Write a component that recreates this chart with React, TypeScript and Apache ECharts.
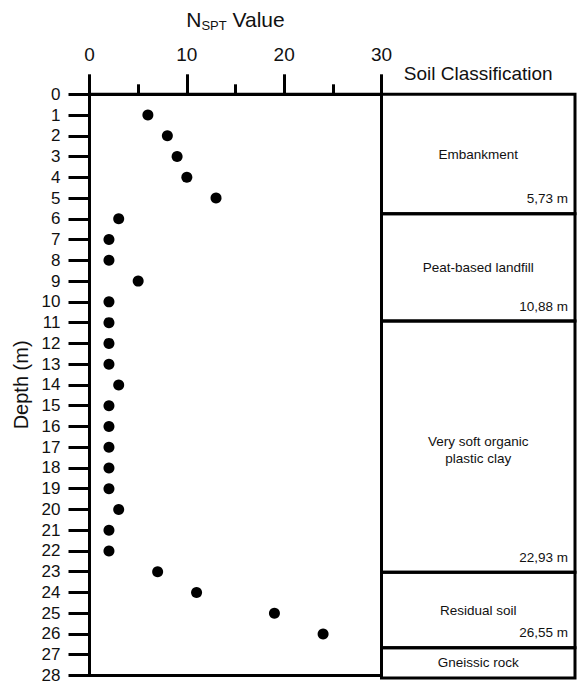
import React, { useEffect, useRef } from "react";
import * as echarts from "echarts";

// N_SPT values per depth (m)
const depths = [1,2,3,4,5,6,7,8,9,10,11,12,13,14,15,16,17,18,19,20,21,22,23,24,25,26];
const nspt = [6,8,9,10,13,3,2,2,5,2,2,2,2,3,2,2,2,2,2,3,2,2,7,11,19,24];

// Soil classification layers
const layerTops = [0, 5.73, 10.88, 22.93, 26.55];
const layerBottoms = [5.73, 10.88, 22.93, 26.55, 28];
const layerNames = ["Embankment", "Peat-based landfill", "Very soft organic\nplastic clay", "Residual soil", "Gneissic rock"];
const layerShowDepth = [true, true, true, true, false];

const xTicks = [0, 30, 10];
const yTicks = [0, 28, 1];

const FONT = "Liberation Sans, Arial, Helvetica, sans-serif";

export default function App() {
  const ref = useRef<HTMLDivElement>(null);
  useEffect(() => {
    document.body.style.margin = "0";
    const chart = echarts.init(ref.current!, null, { renderer: "svg" });
    const top = 94.3;
    const bottom = 6;
    chart.setOption({
      animation: false,
      backgroundColor: "#fff",
      textStyle: { fontFamily: FONT },
      grid: [
        { left: 89.5, right: 195.5, top, bottom, show: true, borderColor: "#000", borderWidth: 3, backgroundColor: "transparent" },
        { left: 381.5, right: 2, top, bottom, show: false },
      ],
      xAxis: [
        {
          gridIndex: 0,
          type: "value",
          position: "top",
          min: xTicks[0],
          max: xTicks[1],
          interval: xTicks[2],
          name: "{n|N}{s|SPT}{n| Value}",
          nameLocation: "middle",
          nameGap: 62,
          nameTextStyle: {
            rich: {
              n: { fontSize: 21, fontFamily: FONT, color: "#111", lineHeight: 26 },
              s: { fontSize: 13, fontFamily: FONT, color: "#111", lineHeight: 14, verticalAlign: "bottom" },
            },
          },
          axisLine: { show: true, onZero: false, lineStyle: { color: "#000", width: 3 } },
          axisTick: { show: true, inside: false, length: 20, lineStyle: { color: "#000", width: 3 } },
          minorTick: { show: true, splitNumber: 2, length: 10, lineStyle: { color: "#000", width: 3 } },
          axisLabel: { fontSize: 19, color: "#111", margin: 30, fontFamily: FONT },
          splitLine: { show: false },
        },
        {
          gridIndex: 1,
          type: "value",
          position: "top",
          min: 0,
          max: 1,
          name: "Soil Classification",
          nameLocation: "middle",
          nameGap: 11,
          nameTextStyle: { fontSize: 19, color: "#111", fontFamily: FONT },
          axisLine: { show: false },
          axisTick: { show: false },
          axisLabel: { show: false },
          splitLine: { show: false },
        },
      ],
      yAxis: [
        {
          gridIndex: 0,
          type: "value",
          inverse: true,
          min: yTicks[0],
          max: yTicks[1],
          interval: yTicks[2],
          name: "Depth (m)",
          nameLocation: "middle",
          nameGap: 53,
          nameRotate: 90,
          nameTextStyle: { fontSize: 20, color: "#111", fontFamily: FONT },
          axisLine: { show: true, onZero: false, lineStyle: { color: "#000", width: 3 } },
          axisTick: { show: true, inside: false, length: 21, lineStyle: { color: "#000", width: 3 } },
          axisLabel: { fontSize: 17, color: "#111", margin: 29, fontFamily: FONT },
          splitLine: { show: false },
        },
        {
          gridIndex: 1,
          type: "value",
          inverse: true,
          min: 0,
          max: 28,
          show: false,
        },
      ],
      series: [
        {
          type: "scatter",
          xAxisIndex: 0,
          yAxisIndex: 0,
          symbol: "circle",
          symbolSize: 11,
          itemStyle: { color: "#000", opacity: 1 },
          data: depths.map((d, i) => [nspt[i], d]),
        },
        {
          type: "custom",
          xAxisIndex: 1,
          yAxisIndex: 1,
          clip: false,
          data: layerTops.map((t, i) => [0, t, 1, layerBottoms[i]]),
          encode: { x: [0, 2], y: [1, 3] },
          renderItem: (params: any, api: any) => {
            const i = params.dataIndex;
            const p0 = api.coord([0, layerTops[i]]);
            const p1 = api.coord([1, layerBottoms[i]]);
            const cx = (p0[0] + p1[0]) / 2;
            const cy = (p0[1] + p1[1]) / 2;
            const children: any[] = [
              {
                type: "rect",
                shape: { x: p0[0], y: p0[1], width: p1[0] - p0[0], height: p1[1] - p0[1] },
                style: { fill: "transparent", stroke: "#000", lineWidth: 3 },
              },
              {
                type: "text",
                x: cx,
                y: cy + (layerNames[i].includes("\n") ? 3 : 0),
                style: {
                  text: layerNames[i],
                  align: "center",
                  verticalAlign: "middle",
                  fontSize: 13.5,
                  lineHeight: 17,
                  fontFamily: FONT,
                  fill: "#111",
                },
              },
            ];
            if (layerShowDepth[i]) {
              children.push({
                type: "text",
                x: p1[0] - 7,
                y: p1[1] - 15,
                style: {
                  text: layerBottoms[i].toFixed(2).replace(".", ",") + " m",
                  align: "right",
                  verticalAlign: "middle",
                  fontSize: 13.5,
                  fontFamily: FONT,
                  fill: "#111",
                },
              });
            }
            return { type: "group", children };
          },
        },
      ],
    });
    return () => chart.dispose();
  }, []);
  return <div ref={ref} style={{ position: "absolute", left: 0, top: 0, width: 577, height: 684 }} />;
}
